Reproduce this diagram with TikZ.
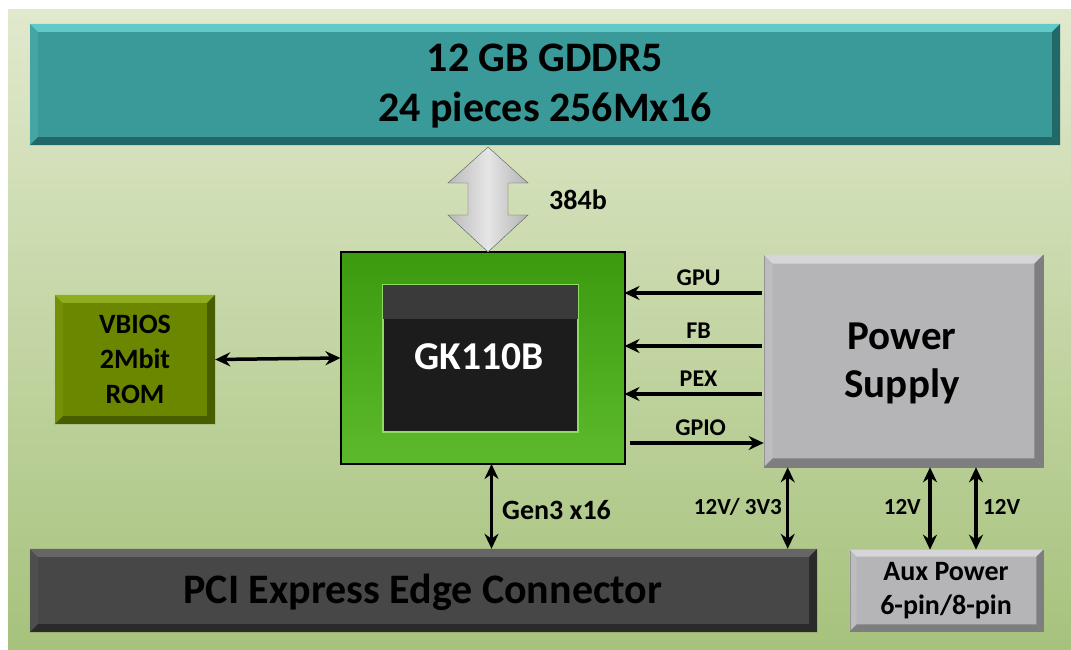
\documentclass[tikz,border=0pt]{standalone}
\usepackage{fontspec}
\setmainfont{Carlito}
\usetikzlibrary{calc,arrows.meta}
\definecolor{bgtop}{HTML}{E1E9CD}
\definecolor{bgbot}{HTML}{A6C27C}
\definecolor{teal}{HTML}{3A9A9A}
\definecolor{teallt}{HTML}{62C9C9}
\definecolor{tealdk}{HTML}{236868}
\definecolor{olive}{HTML}{6B8700}
\definecolor{olivelt}{HTML}{8FAD1E}
\definecolor{olivedk}{HTML}{485C00}
\definecolor{gpugreen}{HTML}{4AB214}
\definecolor{gpudk}{HTML}{3B9A0E}
\definecolor{chip}{HTML}{1C1C1C}
\definecolor{chiptop}{HTML}{3A3A3A}
\definecolor{chipedge}{HTML}{8EDB63}
\definecolor{psgray}{HTML}{B5B5B7}
\definecolor{psgraylt}{HTML}{D6D6D8}
\definecolor{psgraydk}{HTML}{7E7E80}
\definecolor{pcigray}{HTML}{474747}
\definecolor{pcilt}{HTML}{656565}
\definecolor{pcidk}{HTML}{2A2A2A}
\newcommand\bevelbox[4]{%
  \fill[#2] (#1.north west) -- (#1.north east) -- ([shift={(-#4,#4)}]#1.north east) -- ([shift={(#4,#4)}]#1.north west) -- cycle;
  \fill[#2,opacity=0.25] (#1.north west) -- ([shift={(#4,#4)}]#1.north west) -- ([shift={(#4,-#4)}]#1.south west) -- (#1.south west) -- cycle;
  \fill[#3] (#1.south west) -- (#1.south east) -- ([shift={(-#4,-#4)}]#1.south east) -- ([shift={(#4,-#4)}]#1.south west) -- cycle;
  \fill[#3] (#1.north east) -- ([shift={(-#4,#4)}]#1.north east) -- ([shift={(-#4,-#4)}]#1.south east) -- (#1.south east) -- cycle;
}
\begin{document}
\begin{tikzpicture}[x=1pt,y=-1pt,
  box/.style={rectangle, inner sep=0pt, align=center, text=black},
  dbl/.style={{Stealth[length=15pt,width=14pt]}-{Stealth[length=15pt,width=14pt]}, line width=3.5pt},
  sgl/.style={-{Stealth[length=15pt,width=14pt]}, line width=3.5pt},
  lbl/.style={inner sep=0pt, font=\bfseries\fontsize{24}{26}\selectfont},
  vlbl/.style={inner sep=0pt, font=\bfseries\fontsize{28}{30}\selectfont},
  plbl/.style={inner sep=0pt, font=\bfseries\fontsize{23}{25}\selectfont}]
\useasboundingbox (0,0) rectangle (1071,650);
\fill[white] (0,0) rectangle (1071,650);
\shade[top color=bgtop, bottom color=bgbot] (8,10) rectangle (1071,650);

% memory bar
\node[box, fill=teal, minimum width=1030pt, minimum height=121pt] (mem) at (545,84.5) {};
\bevelbox{mem}{teallt}{tealdk}{8}
\node[inner sep=0pt, align=center, font=\bfseries\fontsize{42}{50}\selectfont] (memtxt) at (545,86) {12 GB GDDR5\\24 pieces 256Mx16};

% VBIOS
\node[box, fill=olive, minimum width=160pt, minimum height=129pt] (vbios) at (135,359.5) {};
\bevelbox{vbios}{olivelt}{olivedk}{8}
\node[inner sep=0pt, align=center, font=\bfseries\fontsize{28}{35}\selectfont] (vbtxt) at (vbios.center) {VBIOS\\2Mbit\\ROM};

% GPU
\node[box, draw=black, line width=2pt, minimum width=282pt, minimum height=210pt] (gpu) at (482.5,358) {};
\shade[top color=gpudk, bottom color=gpugreen!90!white] ([shift={(1,1)}]gpu.north west) rectangle ([shift={(-1,-1)}]gpu.south east);
\draw[black, line width=2pt] (gpu.north west) rectangle (gpu.south east);
\node[box, fill=chip, draw=chipedge, line width=1.2pt, minimum width=195pt, minimum height=147pt] (chip) at (480.5,358.5) {};
\fill[chiptop] ([shift={(0.6,0.6)}]chip.north west) rectangle ([shift={(-0.6,35)}]chip.north east);
\node[inner sep=0pt, text=white, font=\bfseries\fontsize{39.5}{42}\selectfont] (chiptxt) at (479,357) {GK110B};

% Power supply
\node[box, fill=psgray, draw=psgraydk, line width=0.6pt, minimum width=279pt, minimum height=212pt] (psu) at (903.5,361) {};
\bevelbox{psu}{psgraylt}{psgraydk}{9}
\node[inner sep=0pt, align=center, font=\bfseries\fontsize{41}{48}\selectfont] (psutxt) at (902,363) {Power\\Supply};

% PCI bar
\node[box, fill=pcigray, minimum width=787pt, minimum height=83pt] (pci) at (423.5,590.5) {};
\bevelbox{pci}{pcilt}{pcidk}{8}
\node[inner sep=0pt, font=\bfseries\fontsize{42}{44}\selectfont, text=black] (pcitxt) at (423,592) {PCI Express Edge Connector};

% Aux power
\node[box, fill=psgray, draw=psgraydk, line width=0.6pt, minimum width=193pt, minimum height=81pt] (aux) at (946.5,590.5) {};
\bevelbox{aux}{psgraylt}{psgraydk}{7}
\node[inner sep=0pt, align=center, font=\bfseries\fontsize{28}{34}\selectfont] (auxtxt) at (946,591) {Aux Power\\6-pin/8-pin};

% big memory arrow
\shade[left color=gray!55, right color=gray!60, middle color=gray!20, draw=gray!70!black, line width=0.4pt]
  (488,147) -- (528,183) -- (508,183) -- (508,215) -- (528,215) -- (488,252)
  -- (448,215) -- (468,215) -- (468,183) -- (448,183) -- cycle;
\node[inner sep=0pt, font=\bfseries\fontsize{28}{30}\selectfont] (bw) at (578,200) {384b};

% VBIOS link
\draw[dbl] (vbios.east) -- (gpu.west);

% power rails
\coordinate (pgpu) at (psu.west |- 0,293);
\coordinate (pfb)  at (psu.west |- 0,346);
\coordinate (ppex) at (psu.west |- 0,394);
\coordinate (pgpio) at (psu.west |- 0,443);
\draw[sgl] ([xshift=-2pt]pgpu) -- (pgpu -| gpu.east) node[lbl, pos=0.46, above=6pt] (lgpu) {GPU};
\draw[sgl] ([xshift=-2pt]pfb) -- (pfb -| gpu.east) node[lbl, pos=0.46, above=6pt] (lfb) {FB};
\draw[sgl] ([xshift=-2pt]ppex) -- (ppex -| gpu.east) node[lbl, pos=0.46, above=6pt] (lpex) {PEX};
\draw[sgl] ([xshift=5pt]pgpio -| gpu.east) -- (pgpio) node[lbl, pos=0.53, above=6pt] (lgpio) {GPIO};

% vertical links
\coordinate (gx) at ([xshift=9pt]gpu.south);
\draw[dbl] (gx) -- (gx |- pci.north);
\node[vlbl, anchor=west] (lgen) at (502,510) {Gen3 x16};

\coordinate (px) at ([xshift=24pt]psu.south west);
\draw[dbl] (px) -- (px |- pci.north);
\node[plbl, anchor=east] (lpcipw) at (782,507) {12V/ 3V3};

\coordinate (ax1) at (psu.south -| 930,0);
\coordinate (ax2) at (psu.south -| 976,0);
\draw[dbl] (ax1) -- (ax1 |- aux.north);
\draw[dbl] (ax2) -- (ax2 |- aux.north);
\node[plbl, anchor=east] (l12a) at (921,507) {12V};
\node[plbl, anchor=west] (l12b) at (983,507) {12V};
\end{tikzpicture}
\end{document}
